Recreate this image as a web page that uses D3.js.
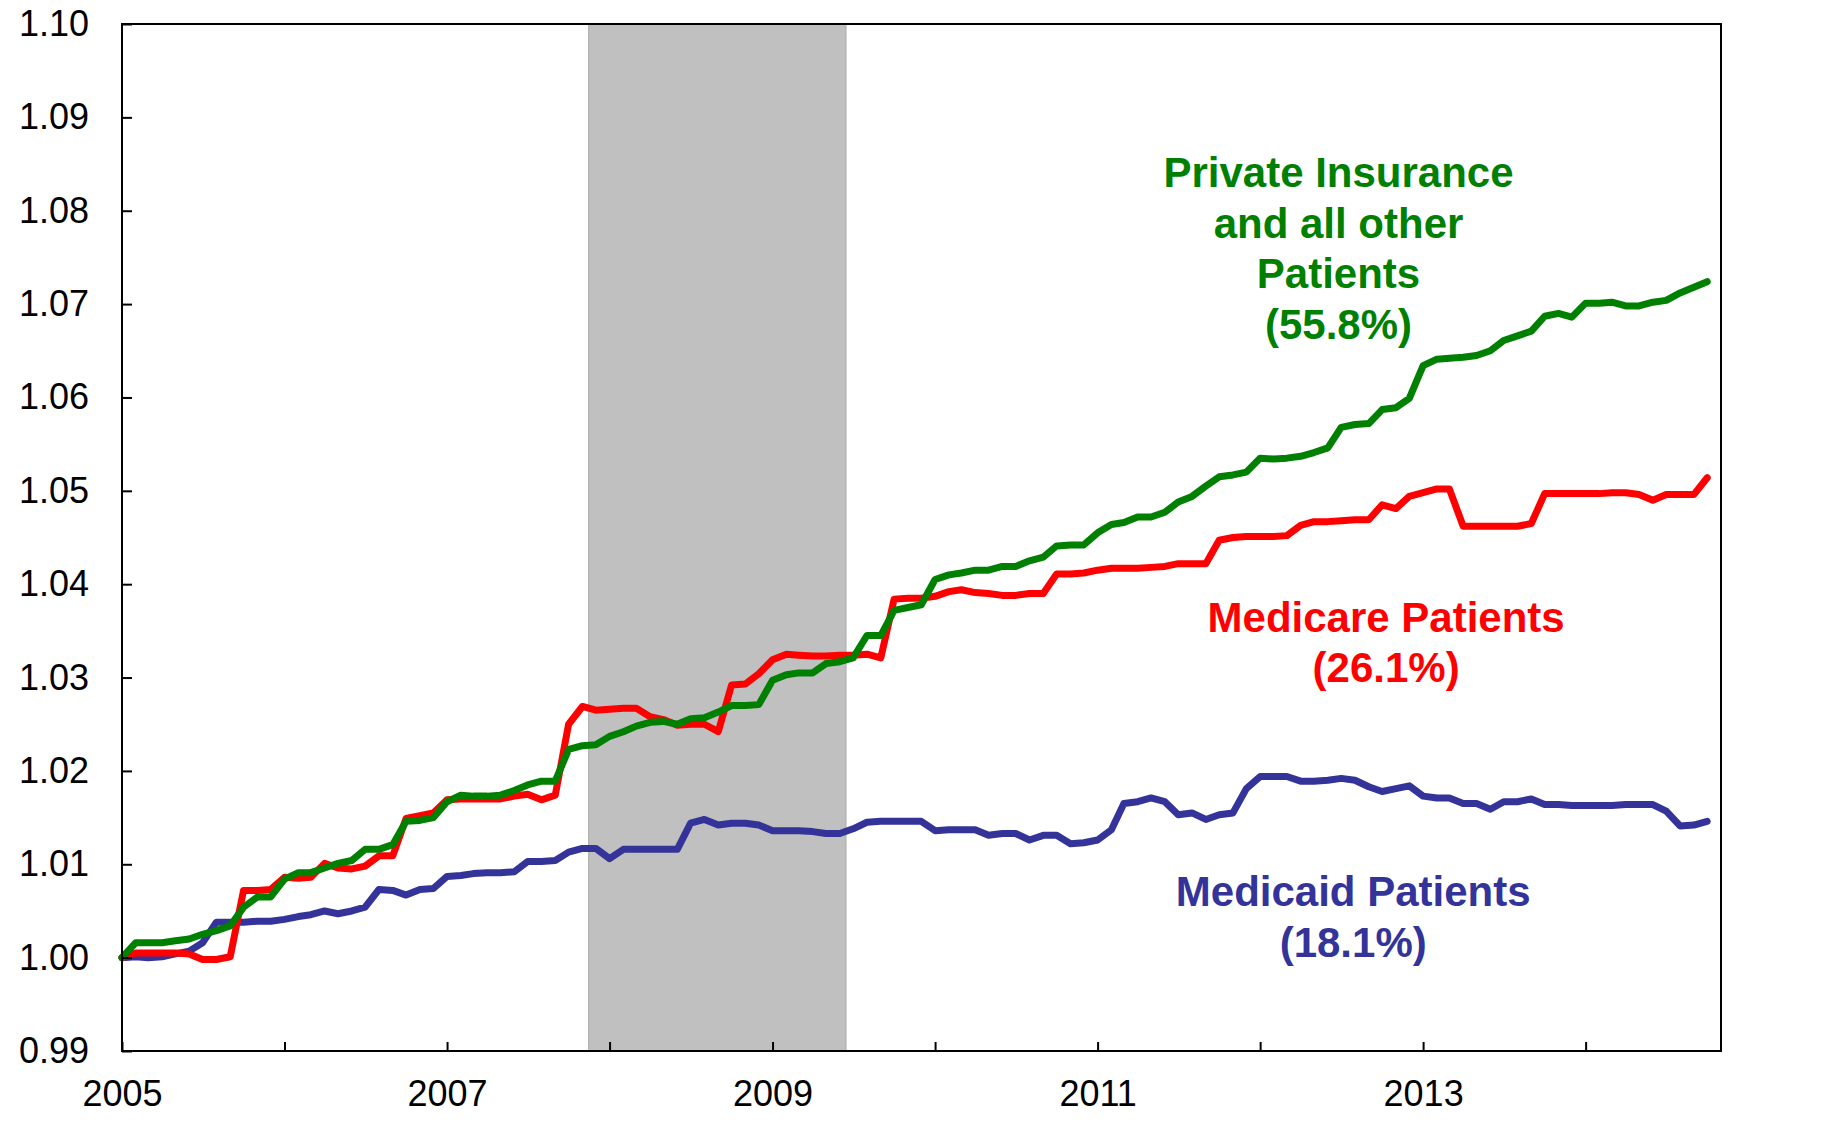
<!DOCTYPE html>
<html>
<head>
<meta charset="utf-8">
<script src="https://cdn.jsdelivr.net/npm/d3@7"></script>
<style>
  html, body { margin: 0; padding: 0; background: #fff; }
  .container { width: 1845px; height: 1124px; }
  svg text { font-family: "Liberation Sans", Arial, sans-serif; }
</style>
</head>
<body>
<div class="container"></div>
<script>
// monthly index values, Jan 2005 .. Oct 2014 (Jan 2005 = 1.00)
const startMonth = new Date(2005, 0, 1);
const endMonth = new Date(2014, 10, 1);

const privateIns = [
    1.0000, 1.0016, 1.0016, 1.0016, 1.0018, 1.0020, 1.0025, 1.0029, 1.0034, 1.0054, 1.0065, 1.0065,
    1.0084, 1.0091, 1.0091, 1.0096, 1.0101, 1.0104, 1.0116, 1.0116, 1.0121, 1.0146, 1.0147, 1.0150,
    1.0167, 1.0174, 1.0173, 1.0173, 1.0174, 1.0179, 1.0185, 1.0189, 1.0189, 1.0223, 1.0227, 1.0228,
    1.0237, 1.0242, 1.0248, 1.0252, 1.0253, 1.0250, 1.0256, 1.0257, 1.0263, 1.0270, 1.0270, 1.0271,
    1.0297, 1.0303, 1.0305, 1.0305, 1.0315, 1.0317, 1.0321, 1.0345, 1.0345, 1.0372, 1.0375, 1.0378,
    1.0405, 1.0410, 1.0412, 1.0415, 1.0415, 1.0419, 1.0419, 1.0425, 1.0429, 1.0441, 1.0442, 1.0442,
    1.0455, 1.0464, 1.0466, 1.0472, 1.0472, 1.0477, 1.0488, 1.0494, 1.0505, 1.0515, 1.0517, 1.0520,
    1.0535, 1.0534, 1.0535, 1.0537, 1.0541, 1.0546, 1.0568, 1.0571, 1.0572, 1.0587, 1.0589, 1.0599,
    1.0634, 1.0641, 1.0642, 1.0643, 1.0645, 1.0650, 1.0661, 1.0666, 1.0671, 1.0687, 1.0690, 1.0686,
    1.0701, 1.0701, 1.0702, 1.0698, 1.0698, 1.0702, 1.0704, 1.0712, 1.0718, 1.0724
];

const medicare = [
    1.0000, 1.0005, 1.0005, 1.0005, 1.0005, 1.0004, 0.9998, 0.9998, 1.0001, 1.0072, 1.0072, 1.0073,
    1.0086, 1.0085, 1.0086, 1.0101, 1.0096, 1.0095, 1.0098, 1.0109, 1.0109, 1.0149, 1.0152, 1.0155,
    1.0169, 1.0170, 1.0170, 1.0170, 1.0170, 1.0173, 1.0175, 1.0169, 1.0174, 1.0250, 1.0269, 1.0265,
    1.0266, 1.0267, 1.0267, 1.0258, 1.0255, 1.0249, 1.0250, 1.0250, 1.0242, 1.0292, 1.0293, 1.0304,
    1.0319, 1.0325, 1.0324, 1.0323, 1.0323, 1.0324, 1.0324, 1.0325, 1.0321, 1.0384, 1.0385, 1.0385,
    1.0387, 1.0392, 1.0394, 1.0391, 1.0390, 1.0388, 1.0388, 1.0390, 1.0390, 1.0411, 1.0411, 1.0412,
    1.0415, 1.0417, 1.0417, 1.0417, 1.0418, 1.0419, 1.0422, 1.0422, 1.0422, 1.0447, 1.0450, 1.0451,
    1.0451, 1.0451, 1.0452, 1.0463, 1.0467, 1.0467, 1.0468, 1.0469, 1.0469, 1.0485, 1.0481, 1.0494,
    1.0498, 1.0502, 1.0502, 1.0462, 1.0462, 1.0462, 1.0462, 1.0462, 1.0465, 1.0497, 1.0497, 1.0497,
    1.0497, 1.0497, 1.0498, 1.0498, 1.0496, 1.0490, 1.0496, 1.0496, 1.0496, 1.0514
];

const medicaid = [
    1.0000, 1.0001, 1.0000, 1.0001, 1.0004, 1.0007, 1.0016, 1.0038, 1.0038, 1.0038, 1.0039, 1.0039,
    1.0041, 1.0044, 1.0046, 1.0050, 1.0047, 1.0050, 1.0054, 1.0073, 1.0072, 1.0067, 1.0073, 1.0074,
    1.0087, 1.0088, 1.0090, 1.0091, 1.0091, 1.0092, 1.0103, 1.0103, 1.0104, 1.0113, 1.0117, 1.0117,
    1.0106, 1.0116, 1.0116, 1.0116, 1.0116, 1.0116, 1.0144, 1.0148, 1.0142, 1.0144, 1.0144, 1.0142,
    1.0136, 1.0136, 1.0136, 1.0135, 1.0133, 1.0133, 1.0138, 1.0145, 1.0146, 1.0146, 1.0146, 1.0146,
    1.0136, 1.0137, 1.0137, 1.0137, 1.0131, 1.0133, 1.0133, 1.0126, 1.0131, 1.0131, 1.0122, 1.0123,
    1.0126, 1.0137, 1.0165, 1.0167, 1.0171, 1.0167, 1.0153, 1.0155, 1.0148, 1.0153, 1.0155, 1.0181,
    1.0194, 1.0194, 1.0194, 1.0189, 1.0189, 1.0190, 1.0192, 1.0190, 1.0183, 1.0178, 1.0181, 1.0184,
    1.0173, 1.0171, 1.0171, 1.0165, 1.0165, 1.0159, 1.0167, 1.0167, 1.0170, 1.0164, 1.0164, 1.0163,
    1.0163, 1.0163, 1.0163, 1.0164, 1.0164, 1.0164, 1.0157, 1.0141, 1.0142, 1.0146
];

// recession shading (Dec 2007 - Jun 2009)
const recession = [new Date(2007, 10, 15), new Date(2009, 5, 15)];

const yTicks = [0.99, 1.00, 1.01, 1.02, 1.03, 1.04, 1.05, 1.06, 1.07, 1.08, 1.09, 1.10];

const seriesLabels = [
    { lines: ["Private Insurance", "and all other", "Patients", "(55.8%)"], color: "#008000", x: new Date(2012, 5, 25), y: 1.0825 },
    { lines: ["Medicare Patients", "(26.1%)"], color: "#ff0000", x: new Date(2012, 9, 10), y: 1.0349 },
    { lines: ["Medicaid Patients", "(18.1%)"], color: "#333399", x: new Date(2012, 6, 28), y: 1.0055 }
];

const series = [
    { name: "medicaid", values: medicaid, color: "#333399" },
    { name: "medicare", values: medicare, color: "#ff0000" },
    { name: "private", values: privateIns, color: "#008000" }
];

const render = () => {
    const w = 1845;
    const h = 1124;
    const margin = { top: 24, right: 124, bottom: 73, left: 122 };
    const iw = w - margin.left - margin.right;
    const ih = h - margin.top - margin.bottom;

    const months = d3.timeMonth.range(startMonth, endMonth);

    const xScale = d3.scaleTime().domain([startMonth, endMonth]).range([0, iw]);
    const yScale = d3.scaleLinear().domain([0.99, 1.10]).range([ih, 0]);

    const svg = d3
        .select(".container")
        .append("svg")
        .attr("width", w)
        .attr("height", h);

    const g = svg.append("g").attr("transform", `translate(${margin.left}, ${margin.top})`);

    g.append("rect")
        .attr("x", xScale(recession[0]))
        .attr("y", 0)
        .attr("width", xScale(recession[1]) - xScale(recession[0]))
        .attr("height", ih)
        .attr("fill", "#c0c0c0")
        .attr("stroke", "#ababab")
        .attr("stroke-width", 1);

    const line = d3
        .line()
        .x((d, i) => xScale(months[i]))
        .y((d) => yScale(d));

    g.selectAll(".series")
        .data(series)
        .enter()
        .append("path")
        .attr("class", "series")
        .attr("d", (d) => line(d.values))
        .attr("fill", "none")
        .attr("stroke", (d) => d.color)
        .attr("stroke-width", 7)
        .attr("stroke-linejoin", "round")
        .attr("stroke-linecap", "round");

    const xAxis = d3
        .axisBottom(xScale)
        .ticks(d3.timeYear.every(1))
        .tickSize(-9)
        .tickPadding(29)
        .tickFormat((d) => (d.getFullYear() % 2 === 1 ? d3.timeFormat("%Y")(d) : ""));
    const xg = g.append("g").attr("transform", `translate(0, ${ih})`).call(xAxis);

    const yAxis = d3
        .axisLeft(yScale)
        .tickValues(yTicks)
        .tickSize(-10)
        .tickPadding(33)
        .tickFormat(d3.format(".2f"));
    const yg = g.append("g").call(yAxis);

    [xg, yg].forEach((ax) => {
        ax.select(".domain").remove();
        ax.selectAll("line").attr("stroke", "#000").attr("stroke-width", 2);
        ax.selectAll("text")
            .attr("fill", "#000")
            .style("font-size", "36px")
            .style("font-family", '"Liberation Sans", Arial, sans-serif');
    });

    g.append("rect")
        .attr("x", 0)
        .attr("y", 0)
        .attr("width", iw)
        .attr("height", ih)
        .attr("fill", "none")
        .attr("stroke", "#000")
        .attr("stroke-width", 2);

    // series labels
    seriesLabels.forEach((lab) => {
        const t = g
            .append("text")
            .attr("x", xScale(lab.x))
            .attr("y", yScale(lab.y))
            .attr("text-anchor", "middle")
            .attr("fill", lab.color)
            .style("font-size", "42px")
            .style("font-weight", "bold");
        t.selectAll("tspan")
            .data(lab.lines)
            .enter()
            .append("tspan")
            .attr("x", xScale(lab.x))
            .attr("dy", (d, i) => (i === 0 ? 0 : 50.5))
            .text((d) => d);
    });
};

render();
</script>
</body>
</html>
